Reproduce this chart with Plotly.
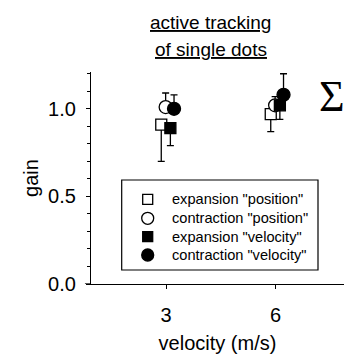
import plotly.graph_objects as go

# Gain of active tracking of single dots, by stimulus velocity
velocity = [3, 6]
velocity_ticks = [3, 6]
gain_ticks = [0.0, 0.5, 1.0]
gain_tick_labels = ["0.0", "0.5", "1.0"]

series_names = [
    'expansion "position"',
    'contraction "position"',
    'expansion "velocity"',
    'contraction "velocity"',
]
exp_pos_gain = [0.91, 0.97]
exp_pos_err_down = [0.21, 0.10]
con_pos_gain = [1.01, 1.02]
con_pos_err_up = [0.08, 0.05]
exp_vel_gain = [0.89, 1.02]
exp_vel_err_down = [0.10, 0.08]
con_vel_gain = [1.00, 1.08]
con_vel_err_up = [0.08, 0.12]

FONT = "Liberation Sans, Arial, Helvetica, sans-serif"
W, H = 344, 359
ML, MR, MT, MB = 91, 0, 72, 75
PW, PH = W - ML - MR, H - MT - MB

# horizontal dodge so the four symbols sit side by side at each velocity
dodge = [-0.13, -0.01, 0.12, 0.22]

styles = [
    dict(symbol="square", color="white", size=11),
    dict(symbol="circle", color="white", size=13),
    dict(symbol="square", color="black", size=11),
    dict(symbol="circle", color="black", size=13),
]
gains = [exp_pos_gain, con_pos_gain, exp_vel_gain, con_vel_gain]
errs = [
    dict(plus=[0, 0], minus=exp_pos_err_down),
    dict(plus=con_pos_err_up, minus=[0, 0]),
    dict(plus=[0, 0], minus=exp_vel_err_down),
    dict(plus=con_vel_err_up, minus=[0, 0]),
]

fig = go.Figure()
for name, g, e, st, dx in zip(series_names, gains, errs, styles, dodge):
    fig.add_trace(go.Scatter(
        x=[v + dx for v in velocity],
        y=g,
        mode="markers",
        name=name,
        showlegend=False,
        marker=dict(symbol=st["symbol"], size=st["size"], color=st["color"],
                    line=dict(color="black", width=1.3)),
        error_y=dict(type="data", symmetric=False, array=e["plus"],
                     arrayminus=e["minus"], color="black", thickness=1.3,
                     width=3.5),
    ))

# Key box: drawn on an overlay axis pair measured in page pixels
key_left, key_right, key_top, key_bottom = 121.7, 318.0, 180.0, 270.0
key_sym_x, key_text_x = 147.7, 170.0
key_rows = [199.3, 218.3, 236.7, 255.0]
for name, st, ry in zip(series_names, styles, key_rows):
    fig.add_trace(go.Scatter(
        x=[key_sym_x], y=[ry], xaxis="x2", yaxis="y2",
        mode="markers", showlegend=False, hoverinfo="skip",
        marker=dict(symbol=st["symbol"], size=st["size"] - 1,
                    color=st["color"], line=dict(color="black", width=1.3)),
    ))

annotations = [
    dict(text=name, xref="x2", yref="y2", x=key_text_x, y=ry,
         xanchor="left", yanchor="middle", showarrow=False,
         font=dict(size=14.6))
    for name, ry in zip(series_names, key_rows)
]
annotations += [
    dict(text="<u>active tracking</u>", xref="paper", yref="paper",
         x=(210.8 - ML) / PW, y=1.2335, xanchor="center",
         yanchor="middle", showarrow=False, font=dict(size=19)),
    dict(text="<u>of single dots</u>", xref="paper", yref="paper",
         x=(210.8 - ML) / PW, y=1.106, xanchor="center",
         yanchor="middle", showarrow=False, font=dict(size=19)),
    dict(text="Σ", xref="paper", yref="paper",
         x=(317 - ML) / PW, y=0.8835, xanchor="left",
         yanchor="middle", showarrow=False,
         font=dict(family="Liberation Serif, Times New Roman, serif",
                   size=44)),
]

fig.update_layout(
    width=W, height=H,
    margin=dict(l=ML, r=MR, t=MT, b=MB, pad=0),
    paper_bgcolor="white", plot_bgcolor="white",
    font=dict(family=FONT, color="black", size=20),
    showlegend=False,
    xaxis=dict(
        range=[0.945, 7.877],
        tickvals=velocity_ticks, ticktext=[str(v) for v in velocity_ticks],
        ticks="outside", ticklen=4, tickwidth=1.2, tickcolor="black",
        showline=True, linecolor="black", linewidth=1.3,
        showgrid=False, zeroline=False,
        tickfont=dict(size=20), ticklabelstandoff=9,
        title=dict(text="velocity (m/s)", font=dict(size=20), standoff=10),
    ),
    yaxis=dict(
        range=[0, 1.21],
        tickvals=gain_ticks, ticktext=gain_tick_labels,
        ticks="outside", ticklen=4, tickwidth=1.2, tickcolor="black",
        minor=dict(dtick=0.1, tick0=0, ticks="outside", ticklen=3,
                   tickwidth=1, tickcolor="black", showgrid=False),
        showline=True, linecolor="black", linewidth=1.3,
        showgrid=False, zeroline=False,
        tickfont=dict(size=20), ticklabelstandoff=6,
        title=dict(text="gain", font=dict(size=20), standoff=4),
    ),
    xaxis2=dict(overlaying="x", range=[ML, W - MR], visible=False,
                fixedrange=True),
    yaxis2=dict(overlaying="y", range=[H - MB, MT], visible=False,
                fixedrange=True),
    annotations=annotations,
    shapes=[
        # short stub of the baseline left of the vertical axis
        dict(type="line", xref="paper", yref="y", x0=-0.024, x1=0,
             y0=0, y1=0, line=dict(color="black", width=1.3)),
        # key frame
        dict(type="rect", xref="x2", yref="y2", x0=key_left, x1=key_right,
             y0=key_top, y1=key_bottom, line=dict(color="black", width=1.2),
             fillcolor="white", layer="below"),
    ],
)

fig.write_html("out.html")
